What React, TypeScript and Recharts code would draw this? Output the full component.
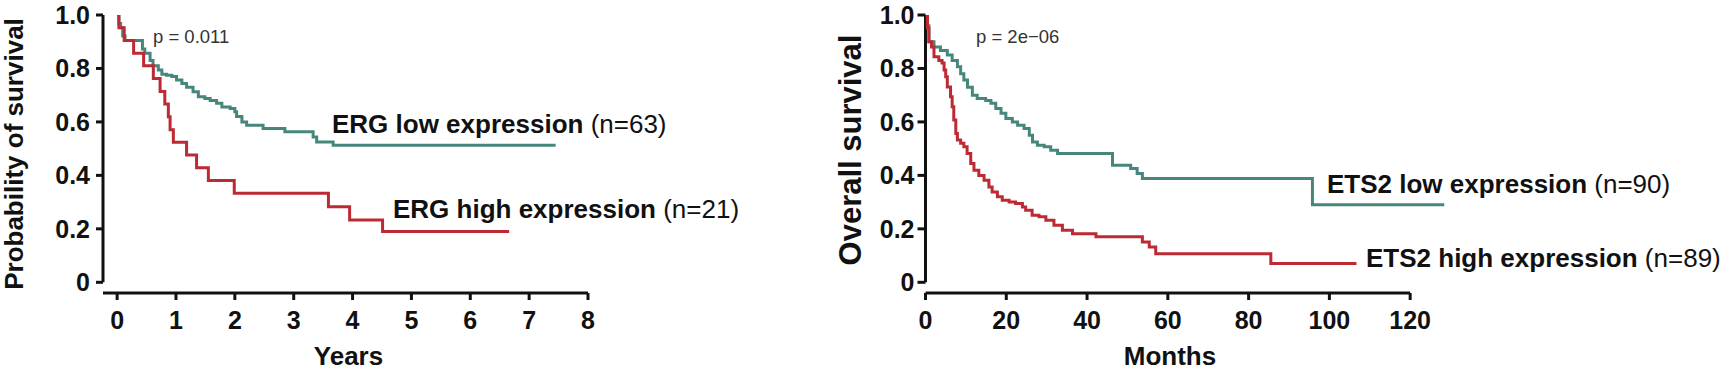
import { LineChart, Line, XAxis, YAxis, ReferenceLine, Label } from "recharts";

// survival axis
const survTicks = [0, 0.2, 0.4, 0.6, 0.8, 1.0];
const yearTicks = [0, 1, 2, 3, 4, 5, 6, 7, 8];
const monthTicks = [0, 20, 40, 60, 80, 100, 120];

// ERG low expression (n=63), years
const ergLowTime = [0, 0.03, 0.06, 0.095, 0.135, 0.43, 0.47, 0.56, 0.61, 0.7, 0.76, 0.84, 0.93, 1.01, 1.1, 1.18, 1.29, 1.38, 1.49, 1.58, 1.69, 1.78, 1.92, 2.0, 2.03, 2.12, 2.2, 2.48, 2.85, 3.33, 3.39, 3.67, 7.45];
const ergLowSurv = [1.0, 0.968, 0.952, 0.921, 0.905, 0.873, 0.857, 0.83, 0.81, 0.794, 0.778, 0.775, 0.77, 0.757, 0.744, 0.73, 0.713, 0.694, 0.688, 0.68, 0.67, 0.656, 0.65, 0.638, 0.62, 0.6, 0.588, 0.575, 0.563, 0.544, 0.525, 0.513, 0.513];

// ERG high expression (n=21), years
const ergHighTime = [0, 0.03, 0.12, 0.28, 0.45, 0.615, 0.73, 0.81, 0.87, 0.9, 0.955, 1.18, 1.35, 1.55, 1.99, 3.59, 3.95, 4.51, 6.66];
const ergHighSurv = [1.0, 0.952, 0.905, 0.857, 0.81, 0.762, 0.714, 0.667, 0.619, 0.571, 0.524, 0.476, 0.429, 0.381, 0.333, 0.283, 0.233, 0.19, 0.19];

// ETS2 low expression (n=90), months
const etsLowTime = [0, 0.4, 0.85, 2.1, 3.7, 5.4, 6.6, 7.9, 8.7, 9.5, 10.4, 11.6, 12.8, 14.9, 16.2, 17.4, 18.7, 19.9, 21.5, 22.8, 24.4, 25.7, 26.5, 27.7, 29.4, 31, 32.7, 46.3, 50.8, 52.4, 53.7, 95.8, 128.5];
const etsLowSurv = [1.0, 0.96, 0.9, 0.88, 0.867, 0.85, 0.83, 0.806, 0.78, 0.757, 0.73, 0.7, 0.688, 0.68, 0.67, 0.65, 0.632, 0.613, 0.6, 0.588, 0.575, 0.55, 0.525, 0.513, 0.507, 0.494, 0.482, 0.438, 0.426, 0.407, 0.388, 0.29, 0.29];

// ETS2 high expression (n=89), months
const etsHighTime = [0, 0.5, 0.85, 1.5, 2.1, 3.3, 4.1, 4.6, 5.0, 5.4, 6.2, 6.6, 7.0, 7.5, 7.9, 8.7, 9.5, 10.3, 11.2, 12.0, 13.2, 14.5, 15.7, 16.5, 17.8, 19.0, 20.7, 22.3, 24, 24.8, 26.4, 28.1, 29.8, 31.8, 33.9, 36.4, 42.2, 53.7, 55.4, 57, 85.5, 106.7];
const etsHighSurv = [1.0, 0.95, 0.9, 0.88, 0.844, 0.83, 0.82, 0.794, 0.769, 0.731, 0.694, 0.657, 0.607, 0.557, 0.532, 0.52, 0.507, 0.482, 0.444, 0.419, 0.4, 0.382, 0.357, 0.338, 0.32, 0.307, 0.3, 0.295, 0.282, 0.27, 0.251, 0.245, 0.232, 0.213, 0.195, 0.182, 0.17, 0.151, 0.132, 0.107, 0.07, 0.07];

const toPoints = (t: number[], s: number[]) => t.map((x, i) => ({ t: x, s: s[i] }));

const GREEN = "#47877b";
const RED = "#bd2a34";
const INK = "#111";
const FONT = "'Liberation Sans', Arial, sans-serif";

const tickStyle = { fontFamily: FONT, fontWeight: 700, fontSize: 25, fill: INK };
const titleProps = { fontFamily: FONT, fontWeight: 700, fontSize: 26, fill: INK };
const fmtSurv = (v: number) => (v === 0 ? "0" : v.toFixed(1));

const noteStyle = { fontFamily: FONT, fontSize: 18.5, fill: "#333" };
const legendStyle = { fontFamily: FONT, fontSize: 26, fill: INK };

export default function App() {
  return (
    <div style={{ position: "absolute", left: 0, top: 0, width: 1722, height: 375, background: "#fff" }}>
      <div style={{ position: "absolute", left: 0, top: 0 }}>
        <LineChart width={820} height={375} margin={{ top: 15, right: 232, bottom: 0, left: 43 }}>
          <XAxis
            type="number"
            dataKey="t"
            domain={[-0.24, 8]}
            ticks={yearTicks}
            allowDataOverflow
            interval={0}
            height={82}
            axisLine={{ stroke: INK, strokeWidth: 3 }}
            tickLine={{ stroke: INK, strokeWidth: 3 }}
            tickSize={7}
            tickMargin={11}
            tick={tickStyle}
          >
            <Label value="Years" position="center" dx={3} dy={22} {...titleProps} />
          </XAxis>
          <YAxis
            type="number"
            dataKey="s"
            domain={[-0.04, 1]}
            ticks={survTicks}
            allowDataOverflow
            interval={0}
            width={60}
            axisLine={false}
            tickLine={{ stroke: INK, strokeWidth: 3 }}
            tickSize={7}
            tickMargin={6}
            tick={tickStyle}
            tickFormatter={fmtSurv}
          >
            <Label value="Probability of survival" angle={-90} position="center" dx={-59} {...titleProps} />
          </YAxis>
          <ReferenceLine segment={[{ x: -0.24, y: 0 }, { x: -0.24, y: 1 }]} stroke={INK} strokeWidth={3} />
          <Line data={toPoints(ergLowTime, ergLowSurv)} dataKey="s" type="stepAfter" stroke={GREEN} strokeWidth={3} dot={false} isAnimationActive={false} />
          <Line data={toPoints(ergHighTime, ergHighSurv)} dataKey="s" type="stepAfter" stroke={RED} strokeWidth={3} dot={false} isAnimationActive={false} />
          <text x={153} y={43} style={noteStyle}>p = 0.011</text>
          <text x={332} y={133} style={legendStyle}>
            <tspan fontWeight={700}>ERG low expression</tspan>
            <tspan> (n=63)</tspan>
          </text>
          <text x={393} y={218} style={legendStyle}>
            <tspan fontWeight={700}>ERG high expression</tspan>
            <tspan> (n=21)</tspan>
          </text>
        </LineChart>
      </div>
      <div style={{ position: "absolute", left: 820, top: 0 }}>
        <LineChart width={902} height={375} margin={{ top: 15, right: 277.5, bottom: 0, left: 45.5 }}>
          <XAxis
            type="number"
            dataKey="t"
            domain={[0, 128.5]}
            ticks={monthTicks}
            allowDataOverflow
            interval={0}
            height={82}
            axisLine={false}
            tickLine={{ stroke: INK, strokeWidth: 3 }}
            tickSize={7}
            tickMargin={11}
            tick={tickStyle}
          >
            <Label value="Months" position="center" dx={-15} dy={22} {...titleProps} />
          </XAxis>
          <YAxis
            type="number"
            dataKey="s"
            domain={[-0.04, 1]}
            ticks={survTicks}
            allowDataOverflow
            interval={0}
            width={60}
            axisLine={false}
            tickLine={{ stroke: INK, strokeWidth: 3 }}
            tickSize={8}
            tickMargin={3}
            tick={tickStyle}
            tickFormatter={fmtSurv}
          >
            <Label value="Overall survival" angle={-90} position="center" dx={-46} dy={-4} {...titleProps} fontSize={31} />
          </YAxis>
          <ReferenceLine segment={[{ x: 0, y: 0 }, { x: 0, y: 1 }]} stroke={INK} strokeWidth={3} />
          <ReferenceLine segment={[{ x: 0, y: -0.04 }, { x: 120, y: -0.04 }]} stroke={INK} strokeWidth={3} />
          <Line data={toPoints(etsLowTime, etsLowSurv)} dataKey="s" type="stepAfter" stroke={GREEN} strokeWidth={3} dot={false} isAnimationActive={false} />
          <Line data={toPoints(etsHighTime, etsHighSurv)} dataKey="s" type="stepAfter" stroke={RED} strokeWidth={3} dot={false} isAnimationActive={false} />
          <text x={156} y={43} style={noteStyle}>p = 2e−06</text>
          <text x={507} y={193} style={legendStyle}>
            <tspan fontWeight={700}>ETS2 low expression</tspan>
            <tspan> (n=90)</tspan>
          </text>
          <text x={546} y={267} style={legendStyle}>
            <tspan fontWeight={700}>ETS2 high expression</tspan>
            <tspan> (n=89)</tspan>
          </text>
        </LineChart>
      </div>
    </div>
  );
}
